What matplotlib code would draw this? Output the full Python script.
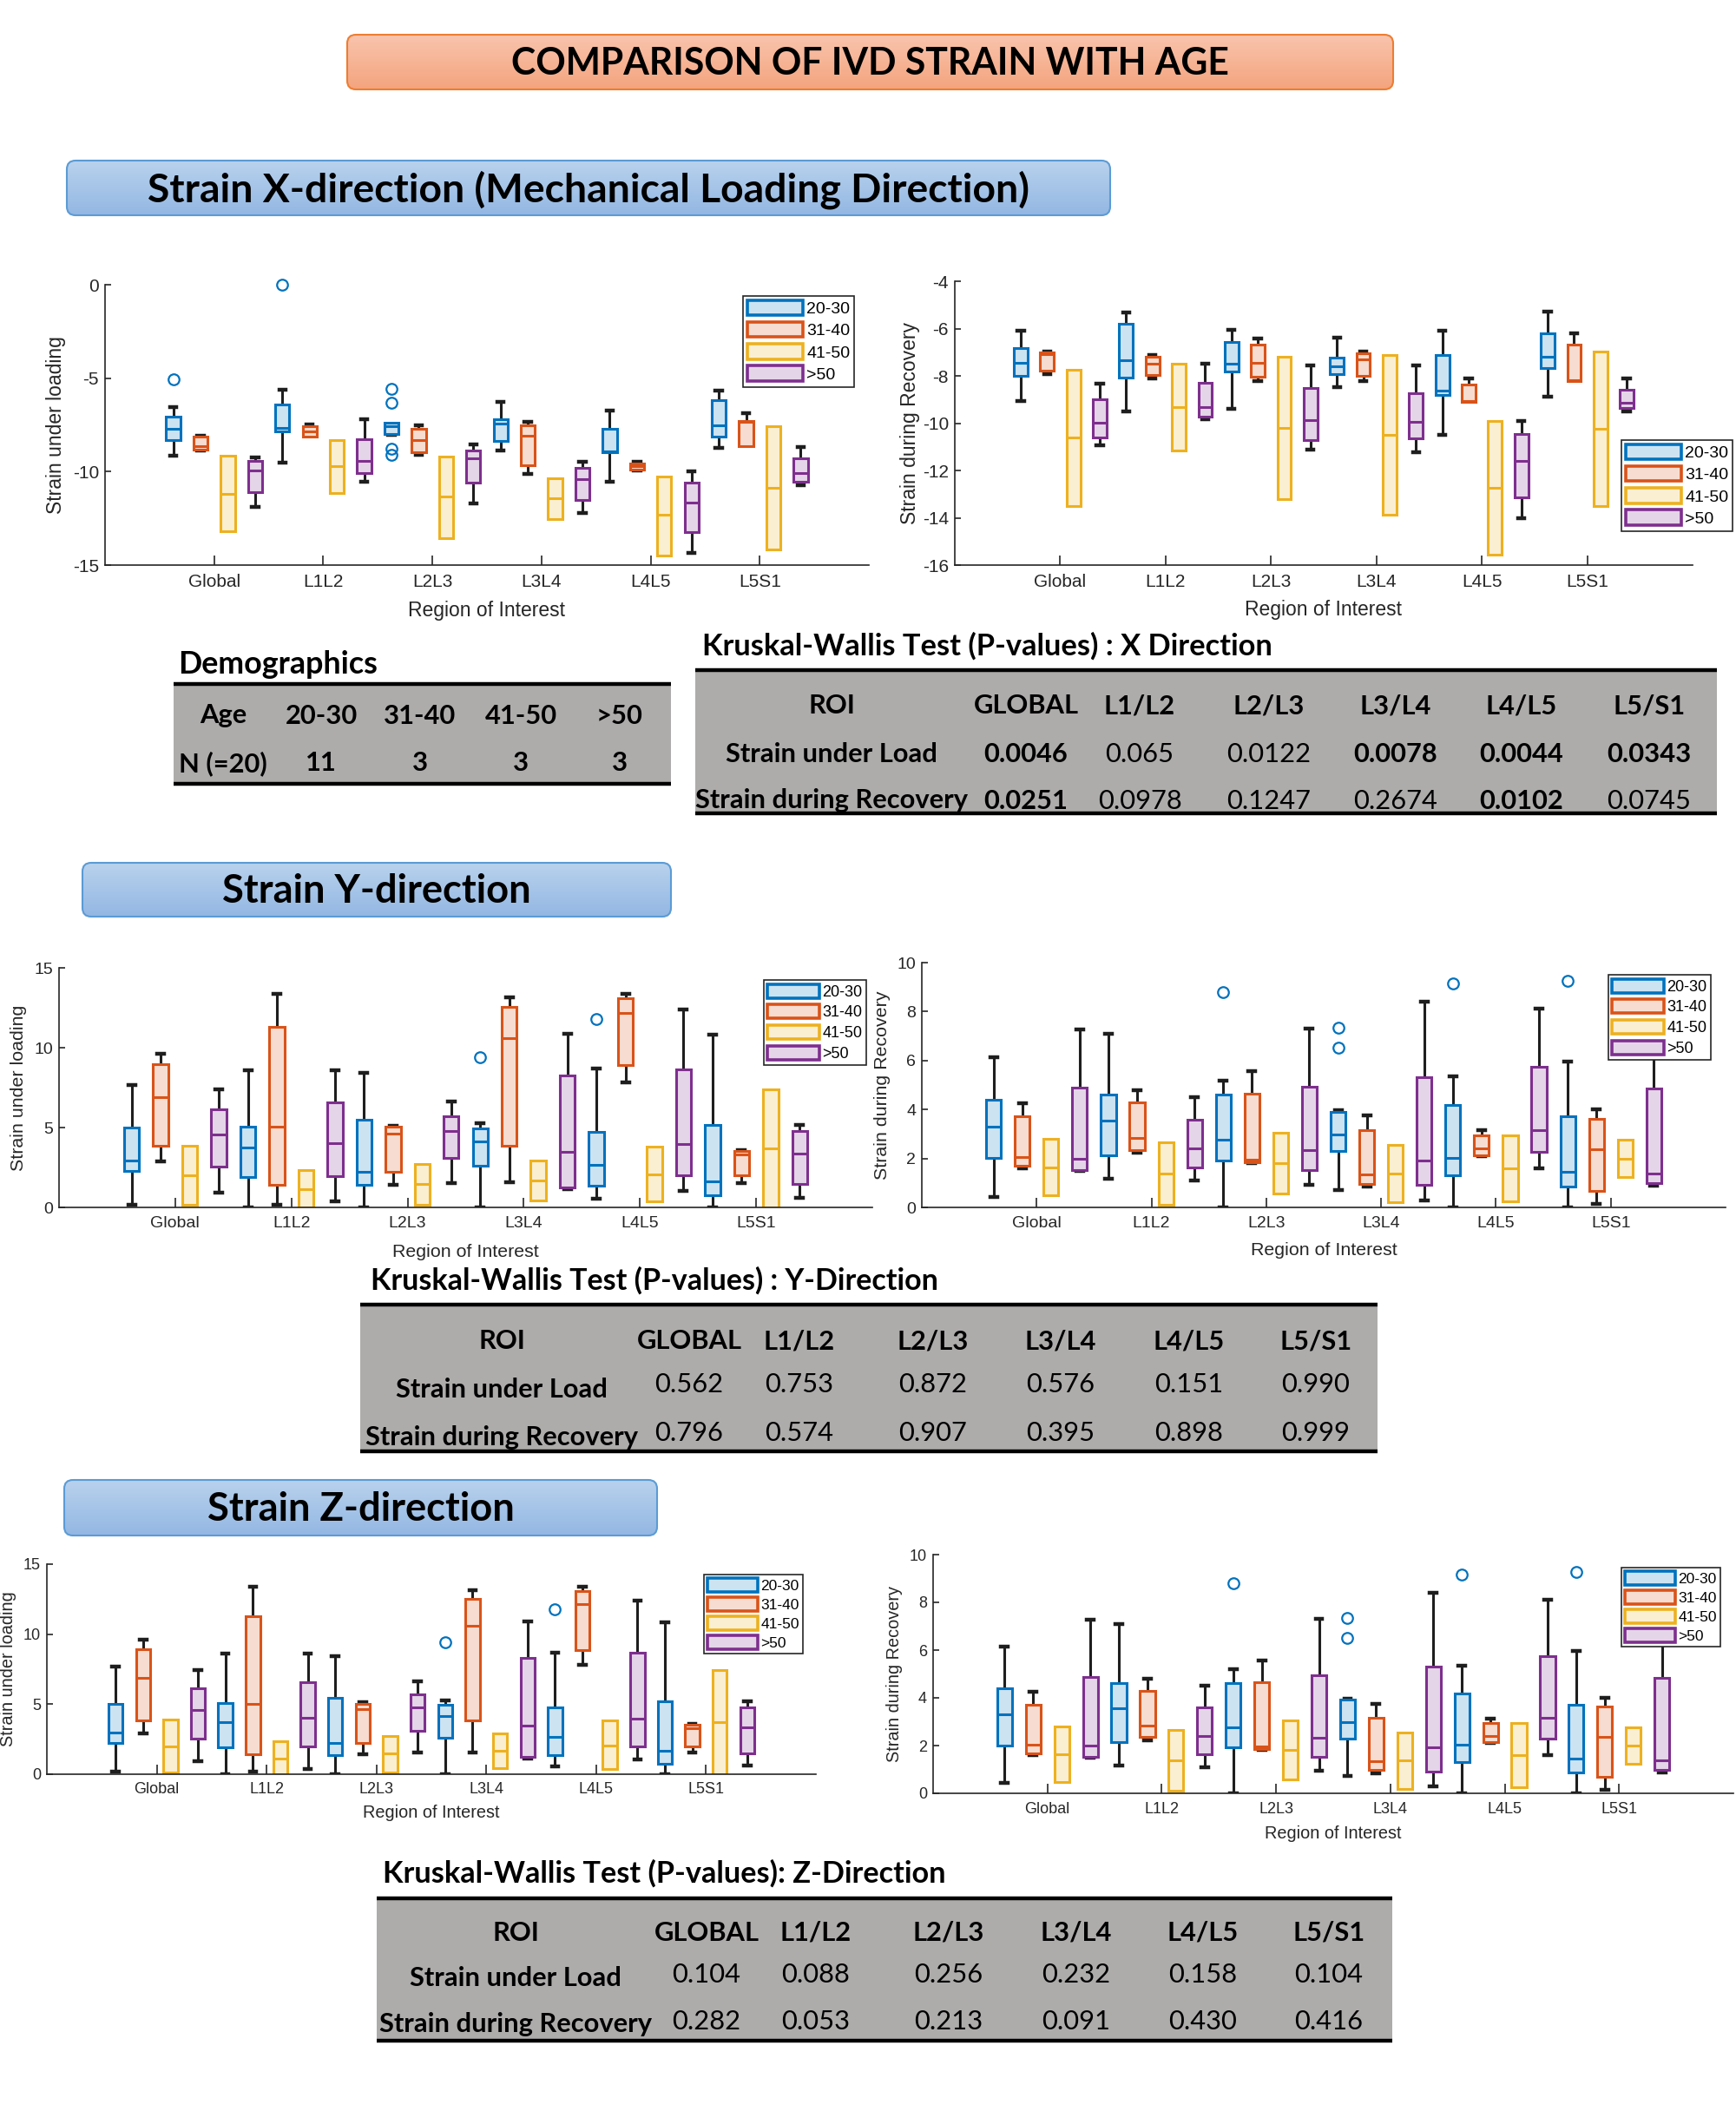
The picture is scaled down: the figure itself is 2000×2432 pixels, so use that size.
import numpy as np
import matplotlib
matplotlib.use('Agg')
import matplotlib.pyplot as plt
from matplotlib.patches import FancyBboxPatch, Patch, Rectangle
from matplotlib.colors import LinearSegmentedColormap

W, H = 2000, 2432
plt.rcParams['font.family'] = ['Liberation Sans', 'DejaVu Sans']
plt.rcParams['axes.unicode_minus'] = False

rois = ['Global', 'L1L2', 'L2L3', 'L3L4', 'L4L5', 'L5S1']
ages = ['20-30', '31-40', '41-50', '>50']

# box stats per ROI: (whisker low, q1, median, q3, whisker high)
x_load_2030 = [(-9.17, -8.32, -7.70, -7.05, -6.53), (-9.54, -7.84, -7.64, -6.39, -5.60),
               (-8.05, -8.00, -7.58, -7.38, -7.38), (-8.89, -8.37, -7.44, -7.19, -6.28),
               (-10.52, -8.96, -8.90, -7.69, -6.72), (-8.75, -8.12, -7.53, -6.19, -5.68)]
x_load_3140 = [(-8.86, -8.81, -8.64, -8.15, -8.09), (-8.12, -8.12, -7.87, -7.56, -7.47),
               (-9.12, -8.95, -8.32, -7.69, -7.53), (-10.14, -9.67, -8.09, -7.53, -7.36),
               (-9.93, -9.90, -9.72, -9.55, -9.49), (-8.63, -8.63, -7.33, -7.28, -6.88)]
x_load_4150 = [(-13.18, -13.18, -11.17, -9.15, -9.15), (-11.13, -11.13, -9.71, -8.32, -8.32),
               (-13.56, -13.56, -11.35, -9.19, -9.19), (-12.53, -12.53, -11.44, -10.35, -10.35),
               (-14.49, -14.49, -12.31, -10.24, -10.24), (-14.15, -14.15, -10.89, -7.58, -7.58)]
x_load_50 = [(-11.91, -11.09, -9.96, -9.42, -9.26), (-10.56, -10.08, -9.43, -8.27, -7.18),
             (-11.68, -10.59, -9.29, -8.86, -8.54), (-12.23, -11.51, -10.42, -9.79, -9.49),
             (-14.37, -13.25, -11.66, -10.59, -10.00), (-10.72, -10.52, -10.08, -9.28, -8.69)]
x_load_out = {0: [-5.07], 1: [0.0], 2: [-5.59, -6.33, -8.80, -9.10]}

x_rec_2030 = [(-9.08, -7.99, -7.44, -6.81, -6.08), (-9.50, -8.06, -7.35, -5.79, -5.33),
              (-9.41, -7.83, -7.47, -6.57, -6.06), (-8.49, -7.93, -7.58, -7.23, -6.39),
              (-10.50, -8.80, -8.62, -7.11, -6.08), (-8.89, -7.66, -7.19, -6.21, -5.28)]
x_rec_3140 = [(-7.93, -7.77, -7.09, -7.00, -6.97), (-8.11, -7.95, -7.49, -7.18, -7.11),
              (-8.23, -8.05, -7.45, -6.67, -6.41), (-8.23, -8.01, -7.30, -7.05, -6.96),
              (-9.11, -9.11, -9.08, -8.35, -8.11), (-8.22, -8.22, -8.18, -6.67, -6.21)]
x_rec_4150 = [(-13.49, -13.49, -10.62, -7.74, -7.74), (-11.14, -11.14, -9.32, -7.47, -7.47),
              (-13.22, -13.22, -10.20, -7.19, -7.19), (-13.88, -13.88, -10.50, -7.11, -7.11),
              (-15.57, -15.57, -12.75, -9.91, -9.91), (-13.52, -13.52, -10.24, -6.97, -6.97)]
x_rec_50 = [(-10.95, -10.62, -9.99, -8.99, -8.33), (-9.85, -9.71, -9.32, -8.28, -7.47),
            (-11.13, -10.70, -9.87, -8.50, -7.57), (-11.23, -10.63, -9.95, -8.74, -7.56),
            (-14.02, -13.13, -11.60, -10.46, -9.91), (-9.52, -9.36, -9.15, -8.59, -8.11)]
x_rec_out = {}

y_load_2030 = [(0.16, 2.26, 2.95, 5.02, 7.66), (0.0, 1.90, 3.75, 5.07, 8.61),
               (0.0, 1.39, 2.25, 5.47, 8.44), (0.0, 2.59, 4.13, 4.93, 5.29),
               (0.54, 1.38, 2.64, 4.75, 8.70), (0.0, 0.74, 1.65, 5.18, 10.82)]
y_load_3140 = [(2.90, 3.86, 6.90, 8.95, 9.62), (0.16, 1.41, 5.05, 11.30, 13.39),
               (1.43, 2.21, 4.64, 5.04, 5.13), (1.58, 3.86, 10.62, 12.54, 13.15),
               (7.83, 8.89, 12.17, 13.08, 13.39), (1.54, 1.99, 3.30, 3.51, 3.57)]
y_load_4150 = [(0.14, 0.14, 2.01, 3.88, 3.88), (0.0, 0.0, 1.14, 2.36, 2.36),
               (0.14, 0.14, 1.49, 2.74, 2.74), (0.43, 0.43, 1.67, 2.92, 2.92),
               (0.38, 0.38, 2.07, 3.82, 3.82), (0.0, 0.0, 3.70, 7.41, 7.41)]
y_load_50 = [(0.94, 2.57, 4.58, 6.14, 7.41), (0.40, 1.96, 4.02, 6.59, 8.61),
             (1.52, 3.12, 4.80, 5.72, 6.63), (1.12, 1.25, 3.48, 8.28, 10.89),
             (1.03, 1.99, 3.97, 8.66, 12.37), (0.62, 1.49, 3.37, 4.78, 5.18)]
y_load_out = {3: [9.40], 4: [11.79]}

y_rec_2030 = [(0.44, 2.01, 3.31, 4.39, 6.13), (1.18, 2.14, 3.56, 4.62, 7.09),
              (0.0, 1.91, 2.77, 4.62, 5.19), (0.71, 2.29, 2.98, 3.91, 3.98),
              (0.0, 1.31, 2.03, 4.20, 5.34), (0.0, 0.86, 1.45, 3.72, 5.96)]
y_rec_3140 = [(1.61, 1.69, 2.04, 3.71, 4.27), (2.23, 2.35, 2.84, 4.30, 4.79),
              (1.82, 1.84, 1.95, 4.66, 5.58), (0.85, 0.97, 1.35, 3.17, 3.76),
              (2.10, 2.14, 2.40, 2.96, 3.14), (0.14, 0.69, 2.38, 3.63, 4.01)]
y_rec_4150 = [(0.48, 0.48, 1.63, 2.81, 2.81), (0.11, 0.11, 1.38, 2.67, 2.67),
              (0.57, 0.57, 1.81, 3.06, 3.06), (0.20, 0.20, 1.38, 2.56, 2.56),
              (0.26, 0.26, 1.61, 2.96, 2.96), (1.24, 1.24, 1.99, 2.78, 2.78)]
y_rec_50 = [(1.48, 1.51, 1.99, 4.88, 7.28), (1.10, 1.62, 2.41, 3.59, 4.52),
            (0.93, 1.51, 2.34, 4.94, 7.30), (0.30, 0.92, 1.93, 5.32, 8.39),
            (1.61, 2.28, 3.16, 5.74, 8.12), (0.89, 1.00, 1.38, 4.85, 7.00)]
y_rec_out = {2: [8.79], 3: [7.34, 6.52], 4: [9.15], 5: [9.27]}

# the Z-direction panels in the poster show the same values as the Y ones
z_load_2030, z_load_3140, z_load_4150, z_load_50 = y_load_2030, y_load_3140, y_load_4150, y_load_50
z_load_out = y_load_out
z_rec_2030, z_rec_3140, z_rec_4150, z_rec_50 = y_rec_2030, y_rec_3140, y_rec_4150, y_rec_50
z_rec_out = y_rec_out

# tables
demo_ages = ['20-30', '31-40', '41-50', '>50']
demo_n = ['11', '3', '3', '3']
kw_cols = ['GLOBAL', 'L1/L2', 'L2/L3', 'L3/L4', 'L4/L5', 'L5/S1']
kw_x_load = ['0.0046', '0.065', '0.0122', '0.0078', '0.0044', '0.0343']
kw_x_rec = ['0.0251', '0.0978', '0.1247', '0.2674', '0.0102', '0.0745']
kw_x_load_bold = [1, 0, 0, 1, 1, 1]
kw_x_rec_bold = [1, 0, 0, 0, 1, 0]
kw_y_load = ['0.562', '0.753', '0.872', '0.576', '0.151', '0.990']
kw_y_rec = ['0.796', '0.574', '0.907', '0.395', '0.898', '0.999']
kw_z_load = ['0.104', '0.088', '0.256', '0.232', '0.158', '0.104']
kw_z_rec = ['0.282', '0.053', '0.213', '0.091', '0.430', '0.416']

COLORS = ['#0072BD', '#D95319', '#EDB120', '#7E2F8E']
FILLS = ['#cce3f2', '#f7ddd1', '#fbefd2', '#e5d5e8']
OFFS = [-0.375, -0.125, 0.125, 0.375]
AXC = '#262626'
GREY = '#aeabab'
TFONT = ['Lato', 'DejaVu Sans']

fig = plt.figure(figsize=(W / 100, H / 100), dpi=100)
ov = fig.add_axes([0, 0, 1, 1])
ov.axis('off')
renderer = fig.canvas.get_renderer()


def fit_text(x, y, s, width, **kw):
    t = ov.text(x, y, s, fontsize=20, **kw)
    w = t.get_window_extent(renderer).width
    t.set_fontsize(20 * width / w)
    return t


def header(l, t, r, b, c_top, c_bot, edge, text, width):
    patch = FancyBboxPatch((l, t), r - l, b - t, boxstyle='round,pad=0,rounding_size=10',
                           facecolor='none', edgecolor=edge, linewidth=1.5, zorder=3)
    ov.add_patch(patch)
    cmap = LinearSegmentedColormap.from_list('g', [c_top, c_bot])
    im = ov.imshow(np.linspace(0, 1, 100).reshape(-1, 1), cmap=cmap,
                   extent=(l, r, b, t), aspect='auto', zorder=2)
    im.set_clip_path(patch)
    fit_text((l + r) / 2, (t + b) / 2 + 2, text, width, ha='center', va='center',
             fontweight='bold', family=TFONT, zorder=4)


def table(l, r, top, bot, rows, xs, ys, bolds, fs, label_dy=0):
    ov.add_patch(Rectangle((l, top), r - l, bot - top, facecolor=GREY, edgecolor='none', zorder=1))
    ov.plot([l, r], [top, top], color='black', lw=3.2, solid_capstyle='butt', zorder=2)
    ov.plot([l, r], [bot, bot], color='black', lw=3.2, solid_capstyle='butt', zorder=2)
    for i, (row, y, bold) in enumerate(zip(rows, ys, bolds)):
        for j, (cell, x, bb) in enumerate(zip(row, xs, bold)):
            dy = label_dy if (j == 0 and i > 0) else 0
            ov.text(x, y + dy, cell, ha='center', va='center_baseline', fontsize=fs,
                    fontweight='bold' if bb else 'normal', family=TFONT, zorder=3)


def panel(box, groups, fliers, ylabel, ylim, yticks, fs, lfs, leg_xy, tick_off, lab_off, ylab_off):
    l, t, r, b = box
    ax = fig.add_axes([l / W, 1 - b / H, (r - l) / W, (b - t) / H])
    ax.patch.set_alpha(0)
    for g, stats in enumerate(groups):
        bs = []
        for i, (lo, q1, med, q3, hi) in enumerate(stats):
            bs.append(dict(whislo=lo, q1=q1, med=med, q3=q3, whishi=hi,
                           fliers=fliers.get(i, []) if g == 0 else []))
        pos = np.arange(1, len(stats) + 1) + OFFS[g]
        art = ax.bxp(bs, positions=pos, widths=0.13, capwidths=0.06, patch_artist=True,
                     manage_ticks=False,
                     boxprops=dict(facecolor=FILLS[g], edgecolor=COLORS[g], linewidth=2.2),
                     medianprops=dict(color=COLORS[g], linewidth=2.2),
                     whiskerprops=dict(color='#1e1e1e', linewidth=2.2, zorder=1.5),
                     capprops=dict(color='#1e1e1e', linewidth=3.2, zorder=1.5),
                     flierprops=dict(marker='o', markerfacecolor='none', markeredgecolor=COLORS[0],
                                     markersize=9, markeredgewidth=1.6, linestyle='none'))
        for fl in art['fliers']:
            fl.set_clip_on(False)
        for i, s in enumerate(stats):
            if s[0] == s[1]:
                art['whiskers'][2 * i].set_visible(False)
                art['caps'][2 * i].set_visible(False)
            if s[4] == s[3]:
                art['whiskers'][2 * i + 1].set_visible(False)
                art['caps'][2 * i + 1].set_visible(False)
    ax.set_xlim(0, 7)
    ax.set_ylim(*ylim)
    ax.set_xticks(range(1, len(rois) + 1), rois)
    ax.set_yticks(yticks)
    for sp in ['top', 'right']:
        ax.spines[sp].set_visible(False)
    for sp in ['left', 'bottom']:
        ax.spines[sp].set_color(AXC)
        ax.spines[sp].set_linewidth(1.2)
    em = fs * 100 / 72
    ax.tick_params(axis='x', direction='in', length=8, width=1.2, color=AXC, labelcolor=AXC,
                   labelsize=fs, pad=(tick_off - 0.58 * em) * 0.72)
    ax.tick_params(axis='y', direction='in', length=5, width=1.2, color=AXC, labelcolor=AXC,
                   labelsize=fs, pad=5)
    ax.set_ylabel(ylabel, fontsize=fs * 1.1, color=AXC, va='center')
    ax.yaxis.set_label_coords(-ylab_off / (r - l), 0.5)
    ax.set_xlabel('Region of Interest', fontsize=fs * 1.1, color=AXC, va='center')
    ax.xaxis.set_label_coords(0.5, -lab_off / (b - t))
    handles = [Patch(facecolor=FILLS[g], edgecolor=COLORS[g], linewidth=2.6) for g in range(4)]
    leg = ax.legend(handles, ages, loc='upper right', bbox_to_anchor=(leg_xy[0] / W, 1 - leg_xy[1] / H),
                    bbox_transform=fig.transFigure, borderaxespad=0, fontsize=lfs,
                    handlelength=3.3, handleheight=1.0, handletextpad=0.2, labelspacing=0.3,
                    borderpad=0.25, fancybox=False, edgecolor=AXC, framealpha=1)
    leg.get_frame().set_linewidth(1.2)
    leg.set_zorder(10)
    return ax


# banners
header(400, 40, 1605, 103, '#f9c4ad', '#f4a47e', '#ed7d31', 'COMPARISON OF IVD STRAIN WITH AGE', 826)
header(77, 185, 1279, 248, '#b9d2ed', '#93b7e3', '#5b9bd5',
       'Strain X-direction (Mechanical Loading Direction)', 1014)
header(95, 994, 773, 1056, '#b9d2ed', '#93b7e3', '#5b9bd5', 'Strain Y-direction', 357)
header(74, 1705, 757, 1769, '#b9d2ed', '#93b7e3', '#5b9bd5', 'Strain Z-direction', 355)

# table font size from the widest row label
probe = fit_text(0, -100, 'Strain during Recovery', 313, fontweight='bold', family=TFONT)
tfs = probe.get_fontsize()
probe.remove()

# demographics
fit_text(205, 765, 'Demographics', 230, ha='left', va='center', fontweight='bold', family=TFONT)
table(200, 773, 788, 903,
      [['Age'] + demo_ages, ['N (=20)'] + demo_n],
      [257, 370, 484, 600, 714], [822, 877], [[1] * 5, [1] * 5], tfs)

# Kruskal-Wallis tables
fit_text(809, 744, 'Kruskal-Wallis Test (P-values) : X Direction', 657,
         ha='left', va='center', fontweight='bold', family=TFONT)
table(801, 1978, 772, 937,
      [['ROI'] + kw_cols, ['Strain under Load'] + kw_x_load, ['Strain during Recovery'] + kw_x_rec],
      [958, 1182, 1313, 1462, 1608, 1753, 1900], [811, 866, 920],
      [[1] * 7, [1] + kw_x_load_bold, [1] + kw_x_rec_bold], tfs)

fit_text(427, 1475, 'Kruskal-Wallis Test (P-values) : Y-Direction', 654,
         ha='left', va='center', fontweight='bold', family=TFONT)
table(415, 1587, 1503, 1672,
      [['ROI'] + kw_cols, ['Strain under Load'] + kw_y_load, ['Strain during Recovery'] + kw_y_rec],
      [578, 794, 921, 1075, 1222, 1370, 1516], [1543, 1593, 1649],
      [[1] * 7, [1] + [0] * 6, [1] + [0] * 6], tfs, label_dy=5)

fit_text(441, 2158, 'Kruskal-Wallis Test (P-values): Z-Direction', 648,
         ha='left', va='center', fontweight='bold', family=TFONT)
table(434, 1604, 2187, 2351,
      [['ROI'] + kw_cols, ['Strain under Load'] + kw_z_load, ['Strain during Recovery'] + kw_z_rec],
      [594, 814, 940, 1093, 1240, 1386, 1531], [2224, 2273, 2326],
      [[1] * 7, [1] + [0] * 6, [1] + [0] * 6], tfs, label_dy=4)

ov.set_xlim(0, W)
ov.set_ylim(H, 0)

# box plot panels
panel((121, 328, 1001, 651), [x_load_2030, x_load_3140, x_load_4150, x_load_50], x_load_out,
      'Strain under loading', (-15, 0), [-15, -10, -5, 0], 15, 14, (984, 341), 22, 52, 57)
panel((1100, 324, 1950, 651), [x_rec_2030, x_rec_3140, x_rec_4150, x_rec_50], x_rec_out,
      'Strain during Recovery', (-16, -4), list(range(-16, -3, 2)), 15, 14, (1996, 507), 22, 51, 52)
panel((68, 1115, 1005, 1391), [y_load_2030, y_load_3140, y_load_4150, y_load_50], y_load_out,
      'Strain under loading', (0, 15), [0, 5, 10, 15], 14, 13, (998, 1129), 21, 51, 46)
panel((1062, 1109, 1988, 1391), [y_rec_2030, y_rec_3140, y_rec_4150, y_rec_50], y_rec_out,
      'Strain during Recovery', (0, 10), list(range(0, 11, 2)), 14, 13, (1971, 1123), 21, 49, 46)
panel((54, 1802, 940, 2044), [z_load_2030, z_load_3140, z_load_4150, z_load_50], z_load_out,
      'Strain under loading', (0, 15), [0, 5, 10, 15], 13, 12.5, (925, 1814), 19, 44, 44)
panel((1075, 1791, 1997, 2066), [z_rec_2030, z_rec_3140, z_rec_4150, z_rec_50], z_rec_out,
      'Strain during Recovery', (0, 10), list(range(0, 11, 2)), 13, 12.5, (1982, 1806), 20, 46, 44)

fig.savefig('out.png', dpi=100, facecolor='white')
